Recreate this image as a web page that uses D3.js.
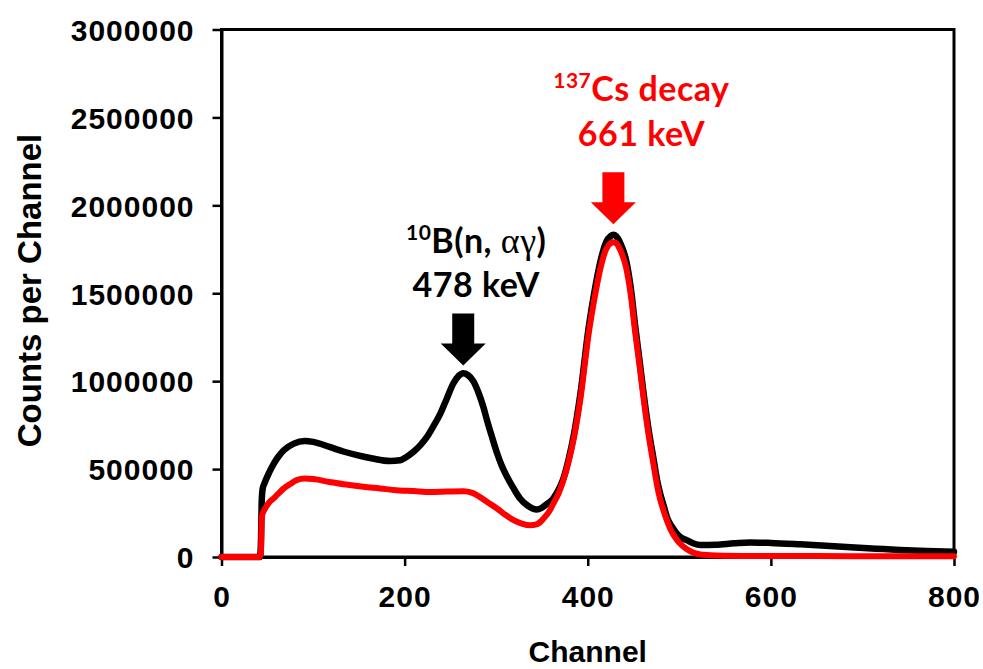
<!DOCTYPE html>
<html>
<head>
<meta charset="utf-8">
<script src="https://cdn.jsdelivr.net/npm/d3@7/dist/d3.min.js"></script>
<style>
  html, body { margin: 0; padding: 0; background: #fff; }
  svg { display: block; }
</style>
</head>
<body>
<svg id="chart" width="983" height="669"></svg>
<script>
// ---- data ----
const blackChannels = [0, 20, 42, 43, 44, 45, 47, 52, 57, 62, 68, 79, 91, 100, 118, 133, 148, 165, 184, 195, 202, 210, 217, 224, 231, 239, 246, 253, 259, 264, 269, 275, 281, 286, 290, 295, 301, 306, 312, 319, 326, 335, 344, 350, 355, 362, 366, 373, 379, 385, 392, 401, 407, 414, 420, 425, 428, 431, 436, 442, 447, 452, 457, 461, 466, 472, 476, 479, 483, 487, 492, 497, 502, 508, 515, 523, 540, 560, 577, 600, 632, 660, 687, 715, 741, 770, 800];
const blackCounts = [0, 0, 0, 70000, 330000, 390000, 420000, 480000, 530000, 570000, 607000, 645000, 660000, 655000, 626000, 600000, 579000, 560000, 546000, 550000, 569000, 600000, 635000, 680000, 740000, 815000, 900000, 985000, 1030000, 1045000, 1035000, 1000000, 930000, 853000, 777000, 690000, 590000, 520000, 455000, 390000, 333000, 290000, 270000, 280000, 300000, 330000, 363000, 440000, 553000, 700000, 930000, 1306000, 1500000, 1685000, 1790000, 1825000, 1832000, 1825000, 1780000, 1685000, 1530000, 1306000, 1100000, 930000, 740000, 553000, 430000, 363000, 290000, 220000, 172000, 135000, 110000, 96000, 78000, 68000, 70000, 78000, 83000, 80000, 72000, 64000, 55000, 47000, 40000, 34000, 30000];

const redChannels = [0, 20, 42, 43, 44, 47, 52, 57, 62, 68, 75, 82, 91, 100, 118, 136, 155, 173, 191, 210, 228, 246, 264, 274, 282, 291, 301, 310, 319, 328, 337, 344, 352, 358, 363, 368, 373, 379, 385, 392, 401, 407, 414, 420, 425, 428, 431, 436, 442, 447, 452, 457, 461, 466, 472, 476, 479, 483, 487, 492, 497, 502, 508, 515, 523, 540, 580, 650, 720, 800];
const redCounts = [0, 0, 0, 20000, 230000, 270000, 310000, 333000, 360000, 390000, 415000, 437000, 446000, 443000, 427000, 412000, 399000, 390000, 380000, 375000, 370000, 372000, 374000, 365000, 342000, 310000, 276000, 240000, 210000, 190000, 180000, 185000, 220000, 260000, 310000, 360000, 430000, 540000, 680000, 900000, 1270000, 1460000, 1645000, 1750000, 1785000, 1790000, 1785000, 1740000, 1645000, 1490000, 1270000, 1070000, 900000, 710000, 520000, 400000, 330000, 260000, 200000, 140000, 100000, 70000, 45000, 25000, 14000, 9000, 6000, 5000, 4000, 4000];

const xTicks = [0, 200, 400, 600, 800];
const yTicks = [0, 500000, 1000000, 1500000, 2000000, 2500000, 3000000];

const xLabel = "Channel";
const yLabel = "Counts per Channel";

// annotation anchors (channel, counts at arrow tip)
const boronArrow = { channel: 264, counts: 1089000 };
const csArrow = { channel: 428, counts: 1893000 };

// ---- layout ----
const svg = d3.select("#chart");
const mLeft = 221.5, mRight = 954, mTop = 29.5, mBottom = 557;

const x = d3.scaleLinear().domain([0, 800]).range([mLeft, mRight]);
const y = d3.scaleLinear().domain([0, 3000000]).range([mBottom, mTop]);

const axisFont = "'Liberation Sans', Arial, sans-serif";
const annFont = "Lato, 'Open Sans', sans-serif";

// frame (top & right)
svg.append("rect")
  .attr("x", mLeft).attr("y", mTop)
  .attr("width", mRight - mLeft).attr("height", mBottom - mTop)
  .attr("fill", "none").attr("stroke", "#000").attr("stroke-width", 3);

// axes
const yAxis = svg.append("g")
  .attr("transform", `translate(${mLeft},0)`)
  .call(d3.axisLeft(y).tickValues(yTicks).tickFormat(d3.format("d")).tickSize(9).tickSizeOuter(0).tickPadding(18));
const xAxis = svg.append("g")
  .attr("transform", `translate(0,${mBottom})`)
  .call(d3.axisBottom(x).tickValues(xTicks).tickFormat(d3.format("d")).tickSize(9).tickSizeOuter(0).tickPadding(20));

[yAxis, xAxis].forEach(g => {
  g.select(".domain").attr("stroke", "#000").attr("stroke-width", 3);
  g.selectAll(".tick line").attr("stroke", "#000").attr("stroke-width", 2.5);
  g.selectAll(".tick text")
    .attr("fill", "#000")
    .style("font-family", axisFont)
    .style("font-weight", "bold")
    .style("font-size", "30px")
    .style("letter-spacing", "1px");
});
yAxis.selectAll(".tick text").attr("dy", "0.36em");
xAxis.selectAll(".tick text").attr("dy", "0.71em");

// axis titles
svg.append("text")
  .attr("x", (mLeft + mRight) / 2).attr("y", 662)
  .attr("text-anchor", "middle")
  .style("font-family", axisFont).style("font-weight", "bold").style("font-size", "30px")
  .text(xLabel);

svg.append("text")
  .attr("transform", "translate(40.5,290.5) rotate(-90)")
  .attr("text-anchor", "middle")
  .style("font-family", axisFont).style("font-weight", "bold").style("font-size", "33px")
  .text(yLabel);

// series
const line = d3.line().x(d => x(d[0])).y(d => y(d[1])).curve(d3.curveMonotoneX);
const blackData = blackChannels.map((c, i) => [c, blackCounts[i]]);
const redData = redChannels.map((c, i) => [c, redCounts[i]]);

svg.append("path").datum(blackData)
  .attr("d", line).attr("fill", "none")
  .attr("stroke", "#000").attr("stroke-width", 6.5)
  .attr("stroke-linejoin", "round").attr("stroke-linecap", "round");

svg.append("path").datum(redData)
  .attr("d", line).attr("fill", "none")
  .attr("stroke", "#ff0000").attr("stroke-width", 6)
  .attr("stroke-linejoin", "round").attr("stroke-linecap", "round");

// arrows
function arrow(tipX, tipY, color) {
  const sw = 11, hw = 22.5, hl = 22, sl = 30;
  const pts = [
    [tipX - sw, tipY - hl - sl], [tipX + sw, tipY - hl - sl],
    [tipX + sw, tipY - hl], [tipX + hw, tipY - hl],
    [tipX, tipY], [tipX - hw, tipY - hl], [tipX - sw, tipY - hl]
  ];
  svg.append("polygon").attr("points", pts.map(p => p.join(",")).join(" ")).attr("fill", color);
}
arrow(x(boronArrow.channel), y(boronArrow.counts), "#000");
arrow(x(csArrow.channel), y(csArrow.counts), "#ff0000");

// annotation texts
const annSize = "34px";
const bx = x(boronArrow.channel) + 13;
const t1 = svg.append("text").attr("x", bx).attr("y", 253).attr("text-anchor", "middle")
  .style("font-family", annFont).style("font-weight", "bold").style("font-size", annSize)
  .style("letter-spacing", "0.5px").attr("fill", "#000");
t1.append("tspan").style("font-size", "21px").attr("dy", -13).text("10");
t1.append("tspan").attr("dy", 13).text("B(n, ");
t1.append("tspan").style("font-family", "'Liberation Serif', 'DejaVu Serif', serif").style("font-weight", "normal").style("font-size", "36px").text("αγ");
t1.append("tspan").text(")");

svg.append("text").attr("x", bx).attr("y", 297).attr("text-anchor", "middle")
  .style("font-family", annFont).style("font-weight", "bold").style("font-size", annSize)
  .style("letter-spacing", "0.5px").attr("fill", "#000")
  .text("478 keV");

const cx = x(csArrow.channel) + 28;
const t2 = svg.append("text").attr("x", cx).attr("y", 101).attr("text-anchor", "middle")
  .style("font-family", annFont).style("font-weight", "bold").style("font-size", annSize)
  .style("letter-spacing", "0.5px").attr("fill", "#ff0000");
t2.append("tspan").style("font-size", "21px").attr("dy", -13).text("137");
t2.append("tspan").attr("dy", 13).text("Cs decay");

svg.append("text").attr("x", cx).attr("y", 146).attr("text-anchor", "middle")
  .style("font-family", annFont).style("font-weight", "bold").style("font-size", annSize)
  .style("letter-spacing", "0.5px").attr("fill", "#ff0000")
  .text("661 keV");
</script>
</body>
</html>
